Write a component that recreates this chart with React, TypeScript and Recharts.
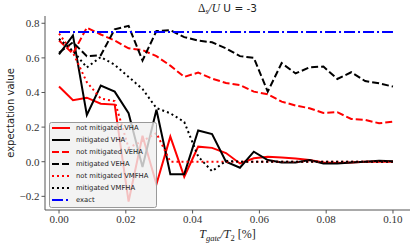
import React from 'react';
import { LineChart, Line, XAxis, YAxis } from 'recharts';

// T_gate / T_2 sample points (25 runs)
const T_GATE = [
  0, 0.00417, 0.00833, 0.0125, 0.01667, 0.02083, 0.025, 0.02917, 0.03333, 0.0375,
  0.04167, 0.04583, 0.05, 0.05417, 0.05833, 0.0625, 0.06667, 0.07083, 0.075, 0.07917,
  0.08333, 0.0875, 0.09167, 0.09583, 0.1,
];

const NM_VHA = [
  0.435, 0.355, 0.37, 0.335, 0.33, -0.23, 0.15, -0.13, 0.145, -0.087,
  0.087, 0.08, 0.05, -0.01, 0.02, 0.028, 0.024, 0.018, 0.01, -0.005,
  -0.008, -0.005, 0.0, 0.0, 0.0,
];
const M_VHA = [
  0.62, 0.73, 0.27, 0.44, 0.405, 0.28, -0.03, 0.3, -0.072, -0.072,
  0.18, 0.16, 0.0, -0.035, 0.058, 0.01, -0.005, -0.005, 0.01, -0.01,
  -0.01, -0.005, 0.0, 0.005, 0.003,
];
const NM_VEHA = [
  0.7, 0.625, 0.775, 0.735, 0.7, 0.655, 0.645, 0.61, 0.555, 0.49,
  0.515, 0.48, 0.455, 0.443, 0.405, 0.39, 0.347, 0.325, 0.309, 0.282,
  0.286, 0.247, 0.242, 0.222, 0.231,
];
const M_VEHA = [
  0.63, 0.69, 0.61, 0.615, 0.765, 0.785, 0.585, 0.755, 0.76, 0.72,
  0.7, 0.69, 0.655, 0.61, 0.6, 0.405, 0.57, 0.51, 0.545, 0.55,
  0.478, 0.517, 0.466, 0.453, 0.434,
];
const NM_VMFHA = [
  0.74, 0.63, 0.46, 0.365, 0.35, 0.08, 0.12, 0.165, 0.0, 0.0,
  0.0, 0.0, 0.0, 0.0, 0.0, 0.0, 0.0, 0.0, 0.0, 0.0,
  0.0, 0.0, 0.0, 0.0, 0.0,
];
const M_VMFHA = [
  0.71, 0.64, 0.545, 0.605, 0.56, 0.49, 0.42, 0.31, 0.28, 0.23,
  0.03, -0.055, 0.005, 0.0, 0.0, 0.0, 0.0, 0.0, 0.0, 0.0,
  0.0, 0.0, 0.0, 0.0, 0.0,
];
const EXACT = [
  0.75, 0.75, 0.75, 0.75, 0.75, 0.75, 0.75, 0.75, 0.75, 0.75,
  0.75, 0.75, 0.75, 0.75, 0.75, 0.75, 0.75, 0.75, 0.75, 0.75,
  0.75, 0.75, 0.75, 0.75, 0.75,
];

const X_TICKS = [0, 0.02, 0.04, 0.06, 0.08, 0.1];
const Y_TICKS = [-0.2, 0, 0.2, 0.4, 0.6, 0.8];

const SERIES = [
  { key: 'nmVHA', name: 'not mitigated VHA', values: NM_VHA, color: '#ff0000', dash: undefined },
  { key: 'mVHA', name: 'mitigated VHA', values: M_VHA, color: '#000000', dash: undefined },
  { key: 'nmVEHA', name: 'not mitigated VEHA', values: NM_VEHA, color: '#ff0000', dash: '7 3' },
  { key: 'mVEHA', name: 'mitigated VEHA', values: M_VEHA, color: '#000000', dash: '7 3' },
  { key: 'nmVMFHA', name: 'not mitigated VMFHA', values: NM_VMFHA, color: '#ff0000', dash: '2 3' },
  { key: 'mVMFHA', name: 'mitigated VMFHA', values: M_VMFHA, color: '#000000', dash: '2 3' },
  { key: 'exact', name: 'exact', values: EXACT, color: '#0000ff', dash: '11 3 2 3' },
];

const data = T_GATE.map((t, i) => {
  const row: Record<string, number> = { t };
  SERIES.forEach(s => { row[s.key] = s.values[i]; });
  return row;
});

const X_DOMAIN = [-0.0042, 0.1051];
const Y_DOMAIN = [-0.279, 0.842];
const FRAME = '#555';
const tickStyle = { fill: '#333', fontSize: 11, fontFamily: 'Liberation Serif' };

const fmtY = (v: number) => (v < 0 ? '\u2212' + Math.abs(v).toFixed(1) : v.toFixed(1));

export default function App() {
  return (
    <div style={{ position: 'absolute', left: 0, top: 0, width: 415, height: 245, background: '#fff' }}>
      <LineChart width={415} height={245} data={data} margin={{ top: 16, right: 5, bottom: 0, left: 0 }}>
        <XAxis
          dataKey="t" type="number" domain={X_DOMAIN} ticks={X_TICKS} allowDataOverflow
          tickFormatter={(v: number) => v.toFixed(2)} height={35} stroke={FRAME}
          tick={tickStyle} tickSize={3.5}
        />
        <XAxis xAxisId="top" orientation="top" dataKey="t" type="number" domain={X_DOMAIN}
          allowDataOverflow tick={false} tickLine={false} height={0} stroke={FRAME} />
        <YAxis
          type="number" domain={Y_DOMAIN} ticks={Y_TICKS} allowDataOverflow
          tickFormatter={fmtY} width={45} stroke={FRAME} tick={tickStyle} tickSize={3.5}
        />
        <YAxis yAxisId="right" orientation="right" type="number" domain={Y_DOMAIN}
          allowDataOverflow tick={false} tickLine={false} width={0} stroke={FRAME} />
        {SERIES.map(s => (
          <Line
            key={s.key} dataKey={s.key} type="linear" stroke={s.color} strokeWidth={2}
            strokeDasharray={s.dash} dot={false} isAnimationActive={false}
          />
        ))}
      </LineChart>

      <svg width={415} height={245} style={{ position: 'absolute', left: 0, top: 0, pointerEvents: 'none' }}>
        <text x={227.5} y={12} textAnchor="middle" fontSize={11.5} fill="#222">
          <tspan fontFamily="Liberation Serif">Δ</tspan>
          <tspan fontFamily="Liberation Serif" fontStyle="italic" fontSize={8} dy={2}>s</tspan>
          <tspan fontFamily="Liberation Serif" fontStyle="italic" dy={-2}>/U</tspan>
          <tspan fontFamily="DejaVu Sans" fontSize={10.5}> U = -3</tspan>
        </text>
        <text x={227.5} y={238} textAnchor="middle" fontFamily="Liberation Serif" fontSize={12} fill="#222">
          <tspan fontStyle="italic">T</tspan>
          <tspan fontStyle="italic" fontSize={8.5} dy={2.5}>gate</tspan>
          <tspan fontStyle="italic" dy={-2.5}>/T</tspan>
          <tspan fontSize={8.5} dy={2.5}>2</tspan>
          <tspan dy={-2.5}> [%]</tspan>
        </text>
        <text transform="rotate(-90)" x={-113} y={14} textAnchor="middle" fontFamily="DejaVu Sans" fontSize={10} fill="#222">
          expectation value
        </text>

        {/* legend */}
        <rect x={49.5} y={122.5} width={107} height={85} rx={2} fill="#f0f0f0" fillOpacity={0.8} stroke="#999" />
        {SERIES.map((s, i) => {
          const y = 128 + i * 12;
          return (
            <g key={s.key}>
              <line x1={52} x2={70} y1={y} y2={y} stroke={s.color} strokeWidth={2} strokeDasharray={s.dash} />
              <text x={76} y={y + 2.4} fontFamily="DejaVu Sans" fontSize={6.8} fill="#222">{s.name}</text>
            </g>
          );
        })}
      </svg>
    </div>
  );
}
